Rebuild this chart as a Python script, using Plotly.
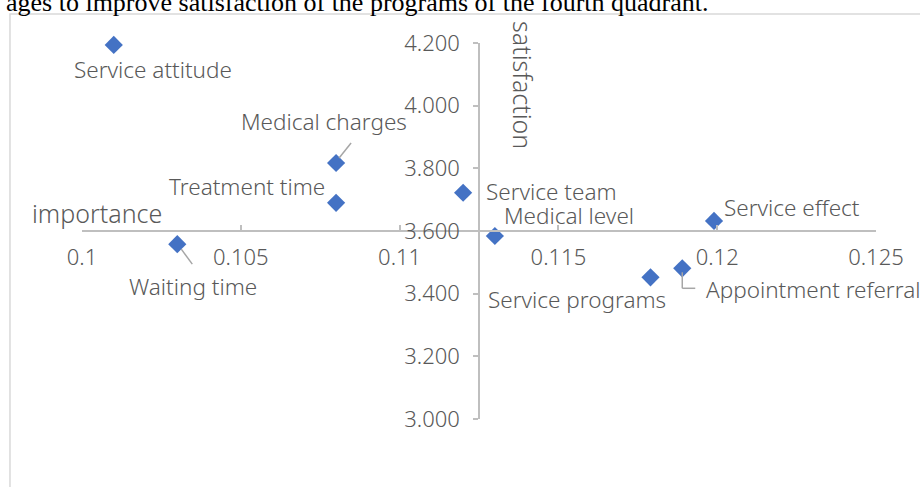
import plotly.graph_objects as go

# ---- data ----
names = ["Service attitude", "Medical charges", "Treatment time", "Service team",
         "Medical level", "Waiting time", "Service programs", "Appointment referral",
         "Service effect"]
importance = [0.101, 0.108, 0.108, 0.112, 0.113, 0.103, 0.1179, 0.1189, 0.1199]
satisfaction = [4.194, 3.817, 3.690, 3.722, 3.584, 3.558, 3.452, 3.481, 3.632]
x_tickvals = [0.1, 0.105, 0.11, 0.115, 0.12, 0.125]
x_ticktext = ["0.1", "0.105", "0.11", "0.115", "0.12", "0.125"]
y_tickvals = [3.0, 3.2, 3.4, 3.6, 3.8, 4.0, 4.2]
y_ticktext = ["3.000", "3.200", "3.400", "3.600", "3.800", "4.000", "4.200"]

# label placement (pixel offsets from the point)
label_style = {
    "Service attitude": ("center", 39, -25),
    "Medical charges": ("right", 73, 42),
    "Treatment time": ("right", -9, 16),
    "Service team": ("left", 21, 1),
    "Medical level": ("left", 7, 21),
    "Waiting time": ("center", 16, -42),
    "Service programs": ("left", -165, -22),
    "Appointment referral": ("left", 22, -21),
    "Service effect": ("left", 8, 13),
}

FONT = "Noto Sans"
GRAY = "#595959"
AXIS = "#bfbfbf"
tfont = dict(family=FONT, size=22, color=GRAY, weight=300)
lfont = dict(family=FONT, size=22.5, color=GRAY, weight=300)
afont = dict(family=FONT, size=25, color=GRAY, weight=300)

fig = go.Figure()
fig.add_trace(go.Scatter(
    x=importance, y=satisfaction, mode="markers", cliponaxis=False,
    marker=dict(symbol="diamond", size=14, color="#4472C4"),
    hoverinfo="text", text=names, showlegend=False,
))

annotations = []
for n, xv, yv in zip(names, importance, satisfaction):
    anc, dx, dy = label_style[n]
    annotations.append(dict(x=xv, y=yv, xref="x", yref="y", text=n, showarrow=False,
                            xanchor=anc, yanchor="middle", xshift=dx, yshift=dy,
                            font=lfont))

# axis titles
annotations.append(dict(x=-0.0655, y=0.5, xref="paper", yref="paper", text="importance",
                        showarrow=False, xanchor="left", yanchor="middle", yshift=18,
                        font=afont))
annotations.append(dict(x=0.5, y=1.0, xref="paper", yref="paper", text="satisfaction",
                        showarrow=False, textangle=90, xanchor="center", yanchor="middle",
                        xshift=44, yshift=-42, font=afont))
# cropped caption text above the chart
annotations.append(dict(x=-0.0985, y=1.0771, xref="paper", yref="paper",
                        text="ages to improve satisfaction of the programs of the fourth quadrant.",
                        showarrow=False, xanchor="left", yanchor="bottom", yshift=-5,
                        font=dict(family="Liberation Serif", size=26, color="#000000")))

# leader lines, anchored at data points with pixel offsets
def leader(i, pts):
    shapes = []
    for (a, b), (c, d) in zip(pts[:-1], pts[1:]):
        shapes.append(dict(type="line", xref="x", yref="y",
                           xsizemode="pixel", ysizemode="pixel",
                           xanchor=importance[i], yanchor=satisfaction[i],
                           x0=a, y0=b, x1=c, y1=d,
                           line=dict(color="#a6a6a6", width=1.5)))
    return shapes

shapes = []
shapes += leader(names.index("Medical charges"), [(3, 5), (15, 20)])
shapes += leader(names.index("Waiting time"), [(4, -5), (15, -20)])
shapes += leader(names.index("Appointment referral"), [(0, -4), (0, -20), (13, -20)])
# chart-area border
shapes.append(dict(type="rect", xref="paper", yref="paper", x0=-0.0907, x1=1.3,
                   y0=-0.6, y1=1.0771, line=dict(color="#d9d9d9", width=1.5),
                   fillcolor="rgba(0,0,0,0)", layer="below"))

fig.update_layout(
    width=920, height=487,
    margin=dict(l=82, r=44, t=43, b=68),
    paper_bgcolor="white", plot_bgcolor="white",
    font=tfont,
    annotations=annotations, shapes=shapes,
    xaxis=dict(range=[0.1, 0.125], tickvals=x_tickvals, ticktext=x_ticktext,
               showgrid=False, zeroline=False, showline=True, linecolor=AXIS, linewidth=1.5,
               anchor="free", position=0.5, side="bottom",
               ticks="inside", ticklen=5, tickcolor=AXIS, tickwidth=1.5,
               ticklabelstandoff=7, tickfont=tfont),
    yaxis=dict(range=[3.0, 4.2], tickvals=y_tickvals, ticktext=y_ticktext,
               showgrid=False, zeroline=False, showline=True, linecolor=AXIS, linewidth=1.5,
               anchor="free", position=0.5, side="left",
               ticks="outside", ticklen=5, tickcolor=AXIS, tickwidth=1.5,
               ticklabelstandoff=9, tickfont=tfont),
)

fig.write_html("out.html", config={"displayModeBar": False},
               post_script="document.body.style.margin='0';document.body.style.overflow='hidden';")
